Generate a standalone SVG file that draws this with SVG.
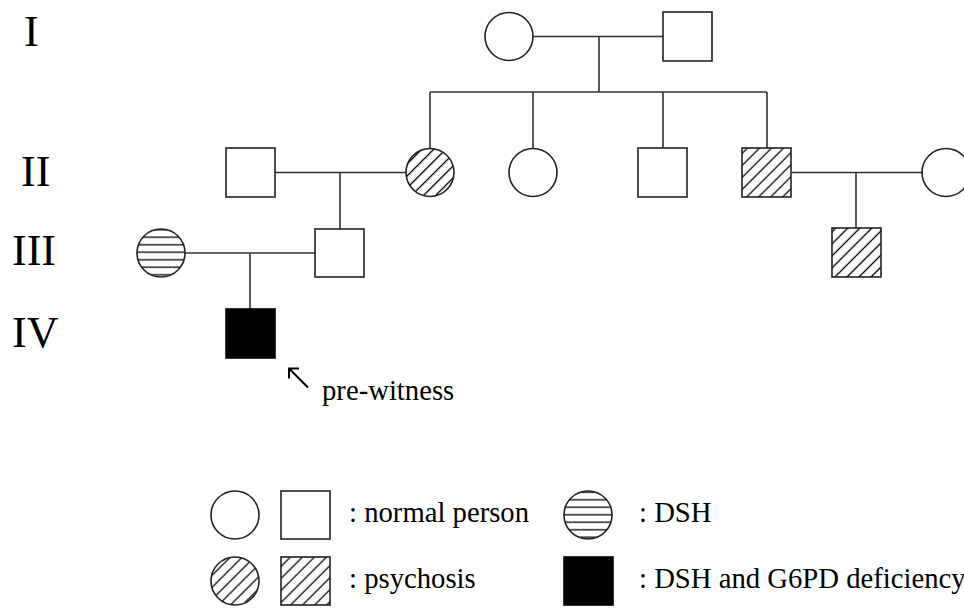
<svg xmlns="http://www.w3.org/2000/svg" width="964" height="608" viewBox="0 0 964 608">
<defs>
<pattern id="diag" patternUnits="userSpaceOnUse" width="8.5" height="8.5" patternTransform="rotate(-45)">
<line x1="0" y1="4.25" x2="8.5" y2="4.25" stroke="#000" stroke-width="1.3"/>
</pattern>
<pattern id="horiz" patternUnits="userSpaceOnUse" x="0" y="1" width="10" height="7.5">
<line x1="0" y1="3.75" x2="10" y2="3.75" stroke="#000" stroke-width="1.3"/>
</pattern>
</defs>
<style>
.s{stroke:#222;stroke-width:1.6;fill:#fff}
.d{stroke:#222;stroke-width:1.6;fill:url(#diag)}
.h{stroke:#222;stroke-width:1.6;fill:url(#horiz)}
.b{stroke:#000;stroke-width:1.6;fill:#000}
.c{stroke:#333;stroke-width:1.6;fill:none}
.gen{font-family:"Liberation Serif","Times New Roman",serif;font-size:44px;fill:#000}
.t{font-family:"Liberation Serif","Times New Roman",serif;font-size:28.7px;fill:#000}
</style>
<rect width="964" height="608" fill="#fff"/>
<g id="connectors">
<line class="c" x1="533" y1="36.5" x2="663" y2="36.5"/>
<line class="c" x1="599" y1="36.5" x2="599" y2="92"/>
<line class="c" x1="430" y1="92" x2="767" y2="92"/>
<line class="c" x1="430" y1="92" x2="430" y2="148"/>
<line class="c" x1="533" y1="92" x2="533" y2="148"/>
<line class="c" x1="663" y1="92" x2="663" y2="148"/>
<line class="c" x1="767" y1="92" x2="767" y2="148"/>
<line class="c" x1="275" y1="172.5" x2="406" y2="172.5"/>
<line class="c" x1="340" y1="172.5" x2="340" y2="229"/>
<line class="c" x1="792" y1="172.5" x2="922" y2="172.5"/>
<line class="c" x1="856" y1="172.5" x2="856" y2="228"/>
<line class="c" x1="185" y1="253" x2="315" y2="253"/>
<line class="c" x1="250" y1="253" x2="250" y2="309"/>
</g>
<g id="gen-labels">
<text class="gen" x="24" y="46">I</text>
<text class="gen" x="21" y="186">II</text>
<text class="gen" x="12" y="265">III</text>
<text class="gen" x="12" y="347">IV</text>
</g>
<g id="I-1"><circle class="s" cx="509" cy="36.5" r="24"/></g>
<g id="I-2"><rect class="s" x="663" y="12" width="49" height="49"/></g>
<g id="II-1"><rect class="s" x="226" y="148" width="49" height="49"/></g>
<g id="II-2"><circle class="d" cx="430" cy="172.5" r="24"/></g>
<g id="II-3"><circle class="s" cx="533" cy="172.5" r="24"/></g>
<g id="II-4"><rect class="s" x="638" y="148" width="49" height="49"/></g>
<g id="II-5"><rect class="d" x="742" y="148" width="49" height="49"/></g>
<g id="II-6"><circle class="s" cx="946" cy="172.5" r="24"/></g>
<g id="III-1"><circle class="h" cx="161" cy="253" r="24"/></g>
<g id="III-2"><rect class="s" x="315" y="229" width="49" height="48"/></g>
<g id="III-3"><rect class="d" x="832" y="228" width="49" height="49"/></g>
<g id="IV-1"><rect class="b" x="226" y="309" width="49" height="49"/></g>
<g id="proband">
<path d="M299 368.5 L289 368.5 L289 378.5 M289 368.5 L308 387.5" fill="none" stroke="#000" stroke-width="2"/>
<text class="t" x="322" y="400">pre-witness</text>
</g>
<g id="legend">
<circle class="s" cx="235" cy="515" r="24"/>
<rect class="s" x="281" y="491" width="49" height="48"/>
<text class="t" x="349" y="522">: normal person</text>
<circle class="d" cx="235" cy="581" r="24"/>
<rect class="d" x="281" y="557" width="49" height="48"/>
<text class="t" x="349" y="588">: psychosis</text>
<circle class="h" cx="588" cy="515" r="24"/>
<text class="t" x="639" y="522">: DSH</text>
<rect class="b" x="564" y="557" width="49" height="48"/>
<text class="t" x="639" y="588">: DSH and G6PD deficiency</text>
</g>
</svg>
